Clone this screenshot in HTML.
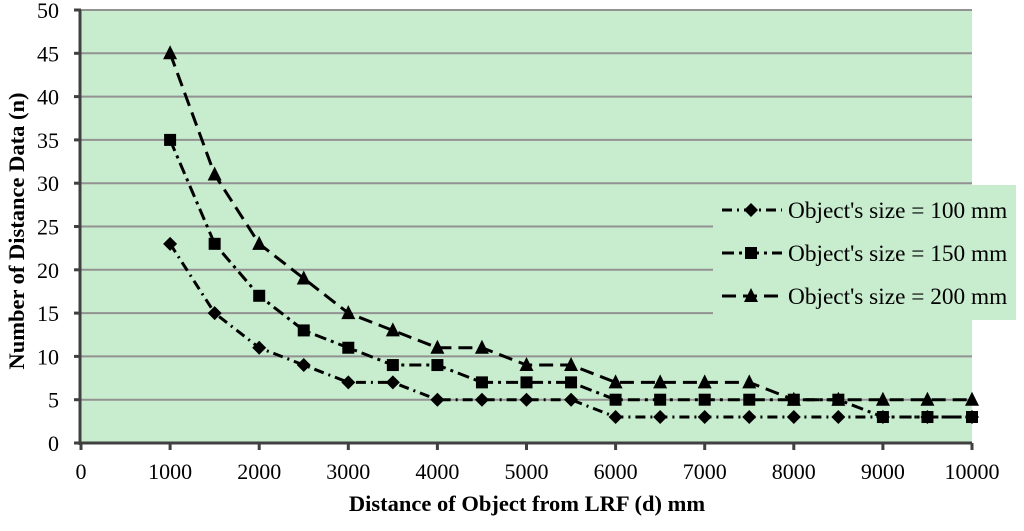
<!DOCTYPE html>
<html><head><meta charset="utf-8"><style>
body{margin:0;background:#fff;width:1024px;height:526px;overflow:hidden}
text{font-family:"Liberation Serif",serif}
</style></head><body>
<svg width="1024" height="526">
<script>
const xCats=[1000,1500,2000,2500,3000,3500,4000,4500,5000,5500,6000,6500,7000,7500,8000,8500,9000,9500,10000];
const s100=[23,15,11,9,7,7,5,5,5,5,3,3,3,3,3,3,3,3,3];
const s150=[35,23,17,13,11,9,9,7,7,7,5,5,5,5,5,5,3,3,3];
const s200=[45,31,23,19,15,13,11,11,9,9,7,7,7,7,5,5,5,5,5];
const yTicks=[0,5,10,15,20,25,30,35,40,45,50];
const xTicks=[0,1000,2000,3000,4000,5000,6000,7000,8000,9000,10000];
const legendLabels=["Object's size = 100 mm","Object's size = 150 mm","Object's size = 200 mm"];
</script>
<g id="g"></g>
<text x="527" y="511" text-anchor="middle" font-size="22.5" font-weight="bold">Distance of Object from LRF (d) mm</text>
<text transform="translate(24,231) rotate(-90)" text-anchor="middle" font-size="22.5" font-weight="bold">Number of Distance  Data (n)</text>
</svg>
<script>
const NS="http://www.w3.org/2000/svg";
const g=document.getElementById('g');
const X=v=>81+(v/10000)*891, Y=v=>443-(v/50)*433;
function mk(t,a,p){const e=document.createElementNS(NS,t);for(const k in a)e.setAttribute(k,a[k]);(p||g).appendChild(e);return e;}
let bg=mk('rect',{x:81,y:10,width:891,height:433,fill:'#c8ecce'});


yTicks.forEach(t=>{
 if(t>0){let l=mk('line',{x1:81,x2:972,y1:Y(t),y2:Y(t),stroke:'#929292','stroke-width':2});
 
 }
 mk('line',{x1:74,x2:81,y1:Y(t),y2:Y(t),stroke:'#404040','stroke-width':3});
 let tx=mk('text',{x:59,y:Y(t)+8,'text-anchor':'end','font-size':22});tx.textContent=t;
 
 
});
xTicks.forEach(t=>{
 mk('line',{x1:X(t),x2:X(t),y1:443,y2:450,stroke:'#404040','stroke-width':3});
 let tx=mk('text',{x:X(t),y:479,'text-anchor':'middle','font-size':22});tx.textContent=t;
 
 
});
mk('line',{x1:80,x2:80,y1:10,y2:445,stroke:'#404040','stroke-width':3});
mk('line',{x1:78,x2:972,y1:443,y2:443,stroke:'#404040','stroke-width':3});
const series=[[s100,'10 5 2 5','d'],[s150,'12 5 3 5','s'],[s200,'14 7','t']];
function marker(type,x,y,p){
 if(type==='d')return mk('polygon',{points:`${x},${y-7} ${x+7},${y} ${x},${y+7} ${x-7},${y}`,fill:'#000'},p);
 if(type==='s')return mk('rect',{x:x-6,y:y-6,width:12,height:12,fill:'#000'},p);
 return mk('polygon',{points:`${x},${y-8} ${x+7},${y+6} ${x-7},${y+6}`,fill:'#000'},p);
}
series.forEach((s,i)=>{
 let pl=mk('polyline',{points:s[0].map((v,j)=>X(xCats[j])+','+Y(v)).join(' '),fill:'none',stroke:'#000','stroke-width':3,'stroke-dasharray':s[1]});
 
 
 s[0].forEach((v,j)=>{let m=marker(s[2],X(xCats[j]),Y(v));
 
 });
});
let lg=mk('g',{});


mk('rect',{x:713,y:185,width:303,height:135,fill:'#c8ecce'},lg);
legendLabels.forEach((lab,i)=>{
 const y=210+i*43;
 mk('line',{x1:722,x2:782,y1:y,y2:y,stroke:'#000','stroke-width':3,'stroke-dasharray':series[i][1]},lg);
 marker(series[i][2],751,y,lg);
 let tx=mk('text',{x:788,y:y+8,'font-size':23.3},lg);tx.textContent=lab;
 
 
});
</script>
</body></html>
